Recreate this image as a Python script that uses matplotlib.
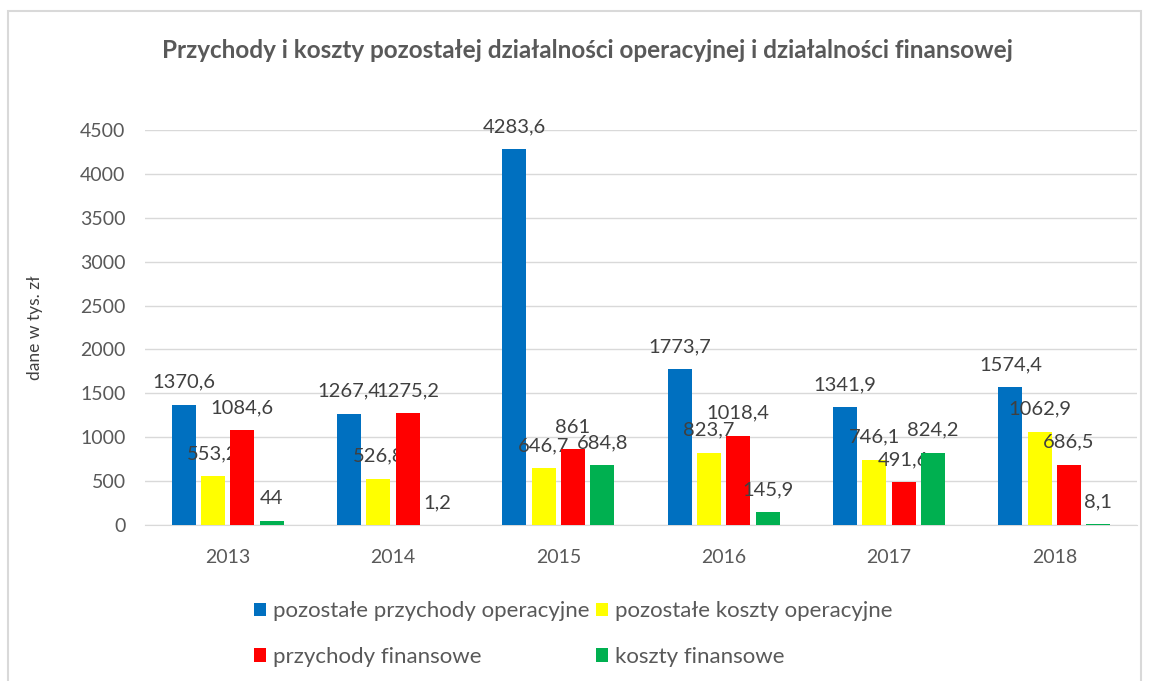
import numpy as np
import matplotlib
matplotlib.use("Agg")
import matplotlib.pyplot as plt
from matplotlib.patches import Rectangle

# data
years = ["2013", "2014", "2015", "2016", "2017", "2018"]
poz_przychody_oper = [1370.6, 1267.4, 4283.6, 1773.7, 1341.9, 1574.4]
poz_koszty_oper = [553.2, 526.8, 646.7, 823.7, 746.1, 1062.9]
przychody_fin = [1084.6, 1275.2, 861, 1018.4, 491.6, 686.5]
koszty_fin = [44, 1.2, 684.8, 145.9, 824.2, 8.1]

series_names = ["pozostałe przychody operacyjne", "pozostałe koszty operacyjne",
                "przychody finansowe", "koszty finansowe"]
colors = ["#0070C0", "#FFFF00", "#FF0000", "#00B050"]

plt.rcParams['font.family'] = ['Lato', 'DejaVu Sans']
TXT = "#595959"


def fmt(v):
    # polish decimal comma, drop trailing .0
    s = ("%.1f" % v).rstrip("0").rstrip(".")
    return s.replace(".", ",")


fig = plt.figure(figsize=(11.5, 6.81), dpi=100)
W, H = 1150, 681
ax = fig.add_axes([145 / W, 1 - 525 / H, (1137 - 145) / W, (525 - 130) / H])

# light border round the whole chart
fig.patches.append(Rectangle((8 / W, -0.01), (1141 - 8) / W, 1 - 11 / H + 0.01,
                             transform=fig.transFigure, fill=False,
                             edgecolor="#D9D9D9", linewidth=1.5))

x = np.arange(len(years))
width = 0.145
step = 0.177
all_series = [poz_przychody_oper, poz_koszty_oper, przychody_fin, koszty_fin]

handles = []
for i, (vals, col, name) in enumerate(zip(all_series, colors, series_names)):
    pos = x + (i - 1.5) * step
    bars = ax.bar(pos, vals, width, color=col, label=name, zorder=3)
    handles.append(bars)
    for b, v in zip(bars, vals):
        ax.annotate(fmt(v), (b.get_x() + b.get_width() / 2, b.get_height()),
                    xytext=(0, 10), textcoords="offset points",
                    ha="center", va="bottom", fontsize=14.5, color="#404040")

ax.set_xlim(-0.5, len(years) - 0.5)
ax.set_ylim(0, 4500)
ax.set_yticks(np.arange(0, 4501, 500))
ax.set_xticks(x)
ax.set_xticklabels(years)
ax.grid(axis="y", color="#D9D9D9", linewidth=1, zorder=0)
for s in ["top", "right", "left"]:
    ax.spines[s].set_visible(False)
ax.spines["bottom"].set_color("#D9D9D9")
ax.tick_params(axis="both", length=0, labelsize=14, labelcolor=TXT)
ax.tick_params(axis="y", pad=14)
ax.tick_params(axis="x", pad=17)

fig.text(35 / W, 1 - 328 / H, "dane w tys. zł", rotation=90, ha="center",
         va="center", fontsize=12.5, color="#404040")

fig.text(587 / W, 1 - 50 / H,
         "Przychody i koszty pozostałej działalności operacyjnej i działalności finansowej",
         ha="center", va="center", fontsize=17.5, fontweight="bold", color=TXT)

# row-wise order like the original legend
order = [0, 2, 1, 3]
leg = fig.legend([handles[k] for k in order], [series_names[k] for k in order],
                 loc="center", bbox_to_anchor=(573 / W, 1 - 634 / H), ncol=2,
                 frameon=False, fontsize=16, handlelength=0.55, handleheight=0.55,
                 handletextpad=0.3, columnspacing=0.3, labelspacing=1.15)
for t in leg.get_texts():
    t.set_color(TXT)

fig.savefig("out.png", dpi=100)
